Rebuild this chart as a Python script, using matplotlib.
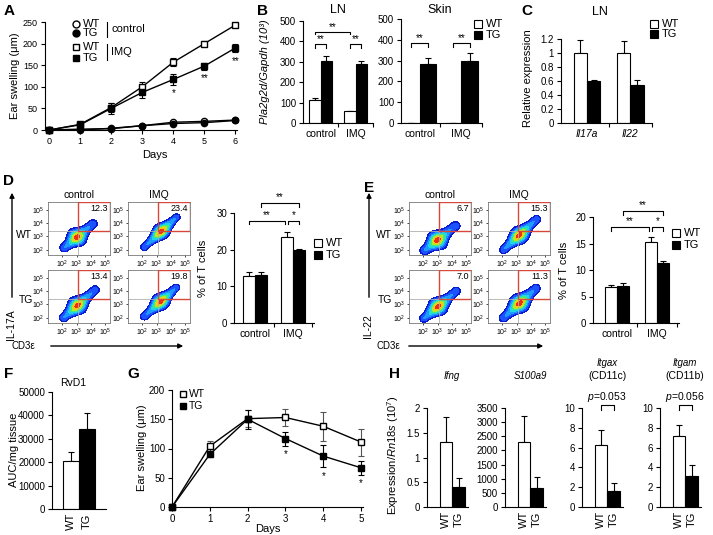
import numpy as np
import matplotlib
matplotlib.use("Agg")
import matplotlib.pyplot as plt
from matplotlib.patches import Rectangle, FancyArrowPatch
from matplotlib.lines import Line2D

plt.rcParams['font.family'] = ['Liberation Sans', 'DejaVu Sans']
plt.rcParams['mathtext.fontset'] = 'custom'
plt.rcParams['mathtext.rm'] = 'Liberation Sans'
plt.rcParams['mathtext.it'] = 'Liberation Sans:italic'

# ---------------- data ----------------
# A: ear swelling, IMQ model
days_a = [0, 1, 2, 3, 4, 5, 6]
wt_ctrl = [0, 2, 3, 10, 18, 20, 23]
wt_ctrl_err = [1, 1, 2, 2, 3, 2, 3]
tg_ctrl = [0, 0, 4, 10, 15, 17, 22]
tg_ctrl_err = [1, 1, 2, 2, 2, 2, 3]
wt_imq = [0, 13, 52, 100, 157, 200, 243]
wt_imq_err = [2, 4, 10, 12, 10, 5, 3]
tg_imq = [0, 12, 50, 87, 117, 148, 190]
tg_imq_err = [2, 4, 12, 14, 12, 8, 10]
stars_a = {4: '*', 5: '**', 6: '**'}

# B: Pla2g2d expression
groups_b = ['control', 'IMQ']
ln_wt = [113, 57]
ln_wt_err = [11, 4]
ln_tg = [306, 287]
ln_tg_err = [22, 15]
skin_wt = [2, 2]
skin_wt_err = [0, 0]
skin_tg = [286, 300]
skin_tg_err = [28, 38]

# C: LN relative expression
genes_c = ['Il17a', 'Il22']
c_wt = [1.0, 1.0]
c_wt_err = [0.18, 0.17]
c_tg = [0.6, 0.55]
c_tg_err = [0.02, 0.07]

# D / E: flow gates (% in gate) and summaries
d_gate_pct = [['12.3', '23.4'], ['13.4', '19.8']]
e_gate_pct = [['6.7', '15.3'], ['7.0', '11.3']]
d_wt = [12.7, 23.5]
d_wt_err = [1.2, 1.2]
d_tg = [13.0, 19.8]
d_tg_err = [1.0, 0.3]
e_wt = [6.7, 15.3]
e_wt_err = [0.5, 0.9]
e_tg = [7.0, 11.3]
e_tg_err = [0.5, 0.4]

# density shape of the flow plots (log10 units): tail, tip, core, width
d_blobs = [[((2.15, 2.15), (4.15, 3.95), (2.95, 3.05), 0.21), ((2.15, 2.2), (4.4, 4.45), (3.3, 3.4), 0.17)],
           [((2.1, 2.0), (4.3, 4.1), (2.95, 3.05), 0.2), ((2.15, 2.1), (4.35, 4.25), (3.2, 3.3), 0.18)]]
e_blobs = [[((2.1, 1.95), (4.25, 3.8), (2.85, 2.9), 0.22), ((2.1, 2.0), (4.4, 4.3), (3.1, 3.2), 0.19)],
           [((2.05, 1.95), (4.3, 4.0), (2.9, 3.0), 0.2), ((2.1, 2.0), (4.35, 4.2), (3.1, 3.2), 0.21)]]

# F: RvD1
f_labels = ['WT', 'TG']
f_vals = [20500, 34000]
f_err = [4000, 7000]

# G: ear swelling
days_g = [0, 1, 2, 3, 4, 5]
g_wt = [0, 104, 151, 153, 138, 111]
g_wt_err = [0, 8, 14, 15, 25, 23]
g_tg = [0, 90, 150, 117, 87, 67]
g_tg_err = [0, 5, 16, 12, 19, 12]
stars_g = [3, 4, 5]

# H: expression / Rn18s
h_genes = ['Ifng', 'S100a9', 'Itgax', 'Itgam']
h_sub = ['', '', '(CD11c)', '(CD11b)']
h_wt = [1.32, 2300, 6.3, 7.2]
h_wt_err = [0.5, 900, 1.5, 1.1]
h_tg = [0.41, 670, 1.65, 3.15]
h_tg_err = [0.18, 400, 0.8, 1.1]
h_ymax = [2, 3500, 10, 10]
h_ystep = [0.5, 500, 2, 2]
h_pval = [None, None, '0.053', '0.056']

# ---------------- helpers ----------------
W, H = 713, 535
fig = plt.figure(figsize=(7.13, 5.35), dpi=100)


def add_ax(l, t, r, b):
    return fig.add_axes([l / W, 1 - b / H, (r - l) / W, (b - t) / H])


def ftext(x, y, s, **kw):
    kw.setdefault('ha', 'center')
    kw.setdefault('va', 'center')
    fig.text(x / W, 1 - y / H, s, **kw)


def style(ax, fs=7):
    for s in ['top', 'right']:
        ax.spines[s].set_visible(False)
    for s in ['left', 'bottom']:
        ax.spines[s].set_linewidth(0.8)
    ax.tick_params(direction='out', length=3, width=0.8, labelsize=fs, pad=2)
    ax.tick_params(which='minor', direction='out', length=3, width=0.8)


def legend_sq(x, y, filled, label, fs=8):
    fig.add_artist(Rectangle(((x - 4) / W, 1 - (y + 4) / H), 8 / W, 8 / H, transform=fig.transFigure,
                             facecolor='k' if filled else 'w', edgecolor='k', lw=0.8))
    ftext(x + 8, y, label, ha='left', fontsize=fs)


def bar_pair(ax, wt, wt_err, tg, tg_err, width):
    x = np.arange(len(wt))
    ax.bar(x - width / 2, wt, width, color='w', edgecolor='k', lw=0.8, zorder=2)
    ax.bar(x + width / 2, tg, width, color='k', edgecolor='k', lw=0.8, zorder=2)
    ax.errorbar(x - width / 2, wt, yerr=[np.zeros(len(wt)), wt_err], fmt='none', ecolor='k',
                elinewidth=0.8, capsize=2.5, capthick=0.8, zorder=1)
    ax.errorbar(x + width / 2, tg, yerr=[np.zeros(len(tg)), tg_err], fmt='none', ecolor='k',
                elinewidth=0.8, capsize=2.5, capthick=0.8, zorder=1)


def bracket(ax, x0, x1, y, h, txt, fs=7, gap=0.0):
    ax.plot([x0, x0, x1, x1], [y - h, y, y, y - h], color='k', lw=0.8, clip_on=False)
    ax.text((x0 + x1) / 2, y + gap, txt, ha='center', va='bottom', fontsize=fs, clip_on=False)


def cat_axis(ax, labels, xlim, fs=7.5, italic=False):
    ax.set_xlim(*xlim)
    ax.set_xticks(range(len(labels)))
    ax.set_xticklabels(labels, fontsize=fs, style='italic' if italic else 'normal')
    ax.tick_params(axis='x', which='major', length=0, pad=4)
    ax.set_xticks([i + 0.5 for i in range(len(labels))], minor=True)


flow_levels = [0.1, 0.2, 0.33, 0.47, 0.6, 0.72, 0.83, 0.93, 1.01]
flow_colors = ['#0a1ccf', '#1c52ff', '#1c9cff', '#1fd6e6', '#43e87e', '#b2ea2a', '#f5c817', '#f0300c']


def blob(ax, tail, tip, core, w0):
    gx = np.linspace(1.0, 5.35, 220)
    gy = np.linspace(1.6, 5.6, 220)
    X, Y = np.meshgrid(gx, gy)
    vx, vy = tip[0] - tail[0], tip[1] - tail[1]
    L2 = vx * vx + vy * vy
    t = ((X - tail[0]) * vx + (Y - tail[1]) * vy) / L2
    tcl = np.clip(t, 0, 1)
    d = np.hypot(X - (tail[0] + tcl * vx), Y - (tail[1] + tcl * vy))
    tc = ((core[0] - tail[0]) * vx + (core[1] - tail[1]) * vy) / L2
    bump = np.exp(-((t - tc) / 0.22) ** 2)
    w = w0 * (1 + 0.7 * bump)
    z = np.exp(-0.5 * (d / w) ** 2) * (0.32 + 0.68 * bump)
    ax.contourf(X, Y, z, levels=flow_levels, colors=flow_colors, zorder=1)


def flow_grid(lefts, tops, pcts, blobs):
    for r, t in enumerate(tops):
        for c, l in enumerate(lefts):
            ax = add_ax(l, t, l + 62, t + 53)
            blob(ax, *blobs[r][c])
            ax.set_xlim(1.0, 5.35)
            ax.set_ylim(1.6, 5.6)
            ax.axvline(3.12, color='#b0b0b0', lw=0.6, zorder=2)
            ax.axhline(3.4, color='#b0b0b0', lw=0.6, zorder=2)
            ax.add_patch(Rectangle((3.12, 3.4), 2.2, 2.17, fill=False, edgecolor='#d8483a', lw=1, zorder=3))
            ax.text(5.2, 5.45, pcts[r][c], ha='right', va='top', fontsize=6.5, zorder=4)
            ax.set_xticks([2, 3, 4, 5])
            ax.set_xticklabels([r'$10^{%d}$' % k for k in [2, 3, 4, 5]])
            ax.set_yticks([2, 3, 4, 5])
            ax.set_yticklabels([r'$10^{%d}$' % k for k in [2, 3, 4, 5]])
            ax.tick_params(labelsize=5, length=1.5, width=0.5, pad=1)
            for s in ax.spines.values():
                s.set_linewidth(0.6)
                s.set_color('#777777')


def arrow(x0, y0, x1, y1):
    fig.add_artist(FancyArrowPatch((x0 / W, 1 - y0 / H), (x1 / W, 1 - y1 / H), transform=fig.transFigure,
                                   arrowstyle='-|>', mutation_scale=7, lw=1, color='k'))


# ---------------- A ----------------
axA = add_ax(45, 22, 237, 130)
style(axA, fs=6.5)
series_a = [(wt_ctrl, wt_ctrl_err, 'o', 'w'), (tg_ctrl, tg_ctrl_err, 'o', 'k'),
            (wt_imq, wt_imq_err, 's', 'w'), (tg_imq, tg_imq_err, 's', 'k')]
for vals, err, mk, fc in series_a:
    axA.errorbar(days_a, vals, yerr=err, fmt='-' + mk, color='k', mfc=fc, mec='k', ms=4.5, lw=1,
                 elinewidth=0.8, capsize=2, capthick=0.8, clip_on=False, zorder=3)
for d, s in stars_a.items():
    axA.text(d, tg_imq[d] - tg_imq_err[d] - 8, s, ha='center', va='top', fontsize=7)
axA.set_xlim(-0.13, 6.05)
axA.set_ylim(0, 250)
axA.set_xticks(days_a)
axA.set_yticks(range(0, 251, 50))
ftext(15, 76, 'Ear swelling (μm)', rotation=90, fontsize=8)
ftext(155, 155, 'Days', fontsize=8)
leg_a = [(24, 'o', 'w', 'WT'), (33, 'o', 'k', 'TG'), (47, 's', 'w', 'WT'), (58, 's', 'k', 'TG')]
for y, mk, fc, lab in leg_a:
    fig.add_artist(Line2D([76 / W], [1 - y / H], marker=mk, mfc=fc, mec='k', ms=5, transform=fig.transFigure))
    ftext(83, y, lab, ha='left', fontsize=8)
fig.add_artist(Line2D([107 / W, 107 / W], [1 - 22 / H, 1 - 37 / H], color='k', lw=0.8, transform=fig.transFigure))
fig.add_artist(Line2D([107 / W, 107 / W], [1 - 44 / H, 1 - 60 / H], color='k', lw=0.8, transform=fig.transFigure))
ftext(111, 29, 'control', ha='left', fontsize=8)
ftext(111, 52, 'IMQ', ha='left', fontsize=8)

# ---------------- B ----------------
axB1 = add_ax(303, 21, 373, 123)
style(axB1)
bar_pair(axB1, ln_wt, ln_wt_err, ln_tg, ln_tg_err, 0.32)
cat_axis(axB1, groups_b, (-0.5, 1.5))
axB1.set_ylim(0, 500)
axB1.set_yticks(range(0, 501, 100))
bracket(axB1, -0.16, 0.16, 385, 18, '**')
bracket(axB1, 0.84, 1.16, 385, 18, '**')
bracket(axB1, -0.16, 0.84, 447, 12, '**')
ftext(338, 10, 'LN', fontsize=9)

axB2 = add_ax(401, 19, 482, 123)
style(axB2)
bar_pair(axB2, skin_wt, skin_wt_err, skin_tg, skin_tg_err, 0.4)
cat_axis(axB2, groups_b, (-0.45, 1.5))
axB2.set_ylim(0, 500)
axB2.set_yticks(range(0, 501, 100))
bracket(axB2, -0.2, 0.2, 385, 18, '**')
bracket(axB2, 0.8, 1.2, 385, 18, '**')
ftext(440, 10, 'Skin', fontsize=9)
ftext(265, 72, 'Pla2g2d/Gapdh (10³)', rotation=90, fontsize=8, style='italic')
legend_sq(478, 24, False, 'WT')
legend_sq(478, 35, True, 'TG')

# ---------------- C ----------------
axC = add_ax(561, 39, 652, 123)
style(axC)
bar_pair(axC, c_wt, c_wt_err, c_tg, c_tg_err, 0.31)
cat_axis(axC, genes_c, (-0.6, 1.5), italic=True)
axC.set_ylim(0, 1.2)
axC.set_yticks([0, 0.2, 0.4, 0.6, 0.8, 1, 1.2])
axC.set_yticklabels(['0', '0.2', '0.4', '0.6', '0.8', '1', '1.2'])
ftext(600, 12, 'LN', fontsize=9)
ftext(528, 78, 'Relative expression', rotation=90, fontsize=8)
legend_sq(654, 24, False, 'WT')
legend_sq(654, 34, True, 'TG')

# ---------------- D ----------------
flow_grid([48, 128], [202, 270], d_gate_pct, d_blobs)
ftext(79, 195, 'control', fontsize=7.5)
ftext(159, 195, 'IMQ', fontsize=7.5)
ftext(24, 235, 'WT', fontsize=7.5)
ftext(26, 300, 'TG', fontsize=7.5)
arrow(12, 300, 12, 190)
ftext(11, 325, 'IL-17A', rotation=90, fontsize=7.5)
ftext(23, 346, 'CD3ε', fontsize=7)
arrow(48, 346, 186, 346)

axD = add_ax(234, 213, 314, 323)
style(axD)
bar_pair(axD, d_wt, d_wt_err, d_tg, d_tg_err, 0.32)
cat_axis(axD, groups_b, (-0.55, 1.55))
axD.set_ylim(0, 30)
axD.set_yticks([0, 10, 20, 30])
bracket(axD, -0.16, 0.80, 27.8, 0.8, '**', gap=0.2)
bracket(axD, 0.88, 1.16, 27.8, 0.8, '*', gap=0.2)
bracket(axD, 0.16, 1.16, 32.7, 1.0, '**', gap=0.2)
ftext(203, 268, '% of T cells', rotation=90, fontsize=8)
legend_sq(318, 243, False, 'WT')
legend_sq(318, 255, True, 'TG')

# ---------------- E ----------------
flow_grid([409, 488], [202, 270], e_gate_pct, e_blobs)
ftext(440, 195, 'control', fontsize=7.5)
ftext(519, 195, 'IMQ', fontsize=7.5)
ftext(384, 235, 'WT', fontsize=7.5)
ftext(385, 300, 'TG', fontsize=7.5)
arrow(369, 300, 369, 190)
ftext(368, 326, 'IL-22', rotation=90, fontsize=7.5)
ftext(388, 346, 'CD3ε', fontsize=7)
arrow(406, 346, 546, 346)

axE = add_ax(593, 217, 679, 323)
style(axE)
bar_pair(axE, e_wt, e_wt_err, e_tg, e_tg_err, 0.3)
cat_axis(axE, groups_b, (-0.6, 1.55))
axE.set_ylim(0, 20)
axE.set_yticks([0, 5, 10, 15, 20])
bracket(axE, -0.15, 0.80, 18.1, 0.7, '**', gap=0.15)
bracket(axE, 0.88, 1.15, 18.1, 0.7, '*', gap=0.15)
bracket(axE, 0.15, 1.15, 21.1, 0.7, '**', gap=0.15)
ftext(564, 270, '% of T cells', rotation=90, fontsize=8)
legend_sq(676, 233, False, 'WT')
legend_sq(676, 245, True, 'TG')

# ---------------- F ----------------
axF = add_ax(52, 392, 106, 509)
style(axF)
axF.bar([0, 1], f_vals, 1.0, color=['w', 'k'], edgecolor='k', lw=0.8, zorder=2)
axF.errorbar([0, 1], f_vals, yerr=[[0, 0], f_err], fmt='none', ecolor='k', elinewidth=0.8,
             capsize=2.5, capthick=0.8, zorder=1)
axF.set_xlim(-1.2, 2.2)
axF.set_xticks([0, 1])
axF.set_xticklabels(f_labels, rotation=90, fontsize=8)
axF.tick_params(axis='x', length=0, pad=3)
axF.set_ylim(0, 50000)
axF.set_yticks(range(0, 50001, 10000))
ftext(73, 383, 'RvD1', fontsize=7.5)
ftext(14, 450, 'AUC/mg tissue', rotation=90, fontsize=8)

# ---------------- G ----------------
axG = add_ax(172, 390, 363, 507)
style(axG)
axG.errorbar(days_g, g_wt, yerr=g_wt_err, fmt='-s', color='k', mfc='w', mec='k', ms=5, lw=1,
             elinewidth=0.8, capsize=2, capthick=0.8, clip_on=False, zorder=3, ecolor='#555555')
axG.errorbar(days_g, g_tg, yerr=g_tg_err, fmt='-s', color='k', mfc='k', mec='k', ms=5, lw=1,
             elinewidth=0.8, capsize=2, capthick=0.8, clip_on=False, zorder=4)
for d in stars_g:
    axG.text(d, g_tg[d] - g_tg_err[d] - 6, '*', ha='center', va='top', fontsize=7)
axG.set_xlim(0, 5.05)
axG.set_ylim(0, 200)
axG.set_xticks(days_g)
axG.set_yticks(range(0, 201, 50))
ftext(142, 448, 'Ear swelling (μm)', rotation=90, fontsize=8)
ftext(268, 529, 'Days', fontsize=8)
axG.plot([0.3], [193], 's', mfc='w', mec='k', ms=5, clip_on=False)
axG.plot([0.3], [172], 's', mfc='k', mec='k', ms=5, clip_on=False)
axG.text(0.45, 193, 'WT', va='center', fontsize=7.5)
axG.text(0.45, 172, 'TG', va='center', fontsize=7.5)

# ---------------- H ----------------
h_lefts = [427, 505, 582, 660]
for i, l in enumerate(h_lefts):
    ax = add_ax(l, 408, l + 41, 507)
    style(ax)
    ax.bar([0, 1], [h_wt[i], h_tg[i]], 1.0, color=['w', 'k'], edgecolor='k', lw=0.8, zorder=2)
    ax.errorbar([0, 1], [h_wt[i], h_tg[i]], yerr=[[0, 0], [h_wt_err[i], h_tg_err[i]]], fmt='none',
                ecolor='k', elinewidth=0.8, capsize=2.5, capthick=0.8, zorder=1)
    ax.set_xlim(-1.5, 1.75)
    ax.set_xticks([0, 1])
    ax.set_xticklabels(['WT', 'TG'], rotation=90, fontsize=8)
    ax.tick_params(axis='x', length=0, pad=3)
    ax.set_ylim(0, h_ymax[i])
    ticks = np.arange(0, h_ymax[i] + h_ystep[i] / 2, h_ystep[i])
    ax.set_yticks(ticks)
    ax.set_yticklabels(['%g' % v for v in ticks])
    cx = l + 41 * (1.5 + 0.5) / 3.25
    if h_sub[i]:
        ftext(cx, 363, h_genes[i], fontsize=7, style='italic')
        ftext(cx, 376, h_sub[i], fontsize=7.5)
    else:
        ftext(cx, 376, h_genes[i], fontsize=7, style='italic')
    if h_pval[i]:
        top = h_ymax[i]
        ax.plot([0, 0, 1, 1], [top * 0.98, top * 1.03, top * 1.03, top * 0.98], color='k', lw=0.8, clip_on=False)
        ftext(cx, 397, r'$\it{p}$=' + h_pval[i], fontsize=7.5)
ftext(393, 455, r'Expression/$\it{Rn18s}$ ($10^7$)', rotation=90, fontsize=8)

# ---------------- panel letters ----------------
for lab, x, y in [('A', 9, 11), ('B', 263, 11), ('C', 527, 11), ('D', 9, 181), ('E', 369, 188),
                  ('F', 9, 374), ('G', 133, 374), ('H', 394, 374)]:
    ftext(x, y, lab, fontsize=11, fontweight='bold')

fig.savefig('out.png', dpi=100)
